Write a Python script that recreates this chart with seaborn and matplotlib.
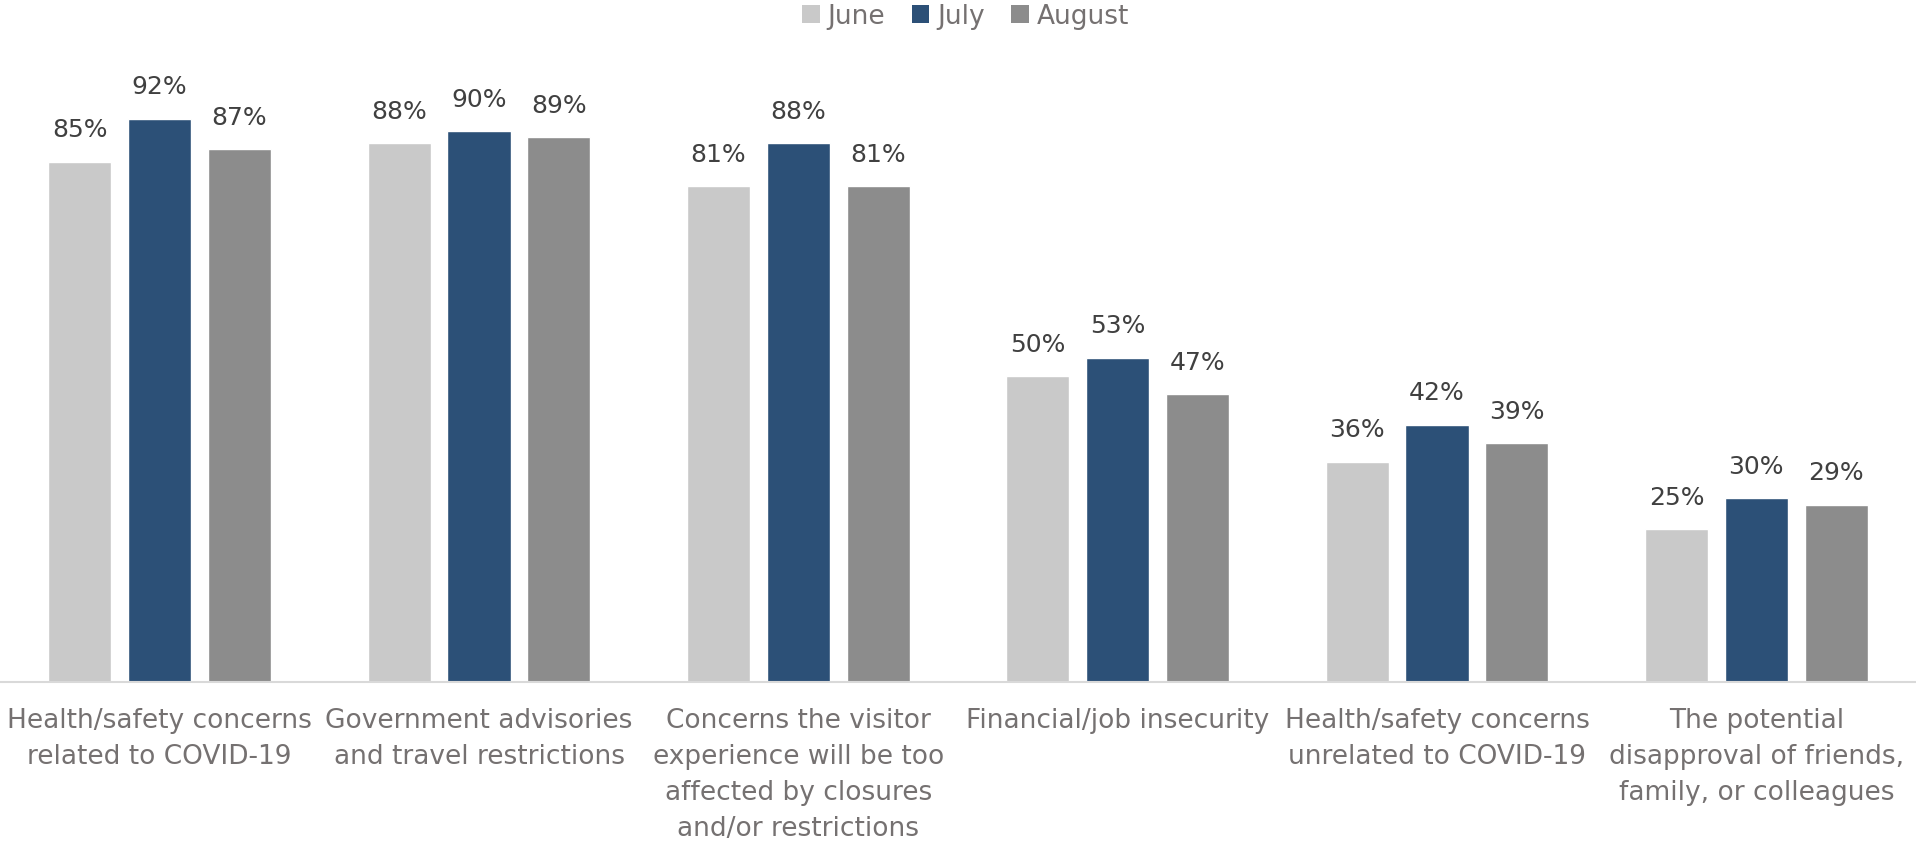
import matplotlib
matplotlib.use("Agg")
import matplotlib.pyplot as plt
import seaborn as sns
import pandas as pd
from matplotlib.patches import Patch

# Barriers to travel, share of respondents by survey month
categories = [
    "Health/safety concerns\nrelated to COVID-19",
    "Government advisories\nand travel restrictions",
    "Concerns the visitor\nexperience will be too\naffected by closures\nand/or restrictions",
    "Financial/job insecurity",
    "Health/safety concerns\nunrelated to COVID-19",
    "The potential\ndisapproval of friends,\nfamily, or colleagues",
]
months = ["June", "July", "August"]
june = [85, 88, 81, 50, 36, 25]
july = [92, 90, 88, 53, 42, 30]
august = [87, 89, 81, 47, 39, 29]
colors = ["#c9c9c9", "#2c5077", "#8c8c8c"]

rows = []
for month, vals in zip(months, [june, july, august]):
    for cat, v in zip(categories, vals):
        rows.append({"category": cat, "month": month, "value": v})
df = pd.DataFrame(rows)

sns.set_style("white")
plt.rcParams["font.family"] = ["DejaVu Sans"]

fig = plt.figure(figsize=(19.16, 8.42), dpi=100)
ax = fig.add_axes([0.0, 0.19, 1.0, 0.727])

sns.barplot(
    data=df, x="category", y="value", hue="month",
    hue_order=months, order=categories, palette=colors,
    width=0.75, gap=0.21, ax=ax, legend=False, saturation=1,
    errorbar=None,
)

for container in ax.containers:
    ax.bar_label(container, labels=[f"{int(b.get_height())}%" for b in container],
                 padding=14, fontsize=18, color="#404040")

ax.set_ylim(0, 100)
ax.set_xlim(-0.5, len(categories) - 0.5)
ax.set_xlabel("")
ax.set_ylabel("")
ax.set_yticks([])
for side in ["top", "left", "right"]:
    ax.spines[side].set_visible(False)
ax.spines["bottom"].set_color("#d9d9d9")
ax.spines["bottom"].set_linewidth(1.5)
ax.tick_params(axis="x", length=0, pad=19, labelsize=19, labelcolor="#757171")
for lbl in ax.get_xticklabels():
    lbl.set_linespacing(1.5)

handles = [Patch(facecolor=c, edgecolor="none") for c in colors]
fig.legend(handles, months, loc="upper center", ncol=3, frameon=False,
           bbox_to_anchor=(0.504, 1.024), fontsize=19, labelcolor="#757171",
           handlelength=0.68, handleheight=0.68, handletextpad=0.3,
           columnspacing=1.0)

fig.savefig("out.png", dpi=100)
